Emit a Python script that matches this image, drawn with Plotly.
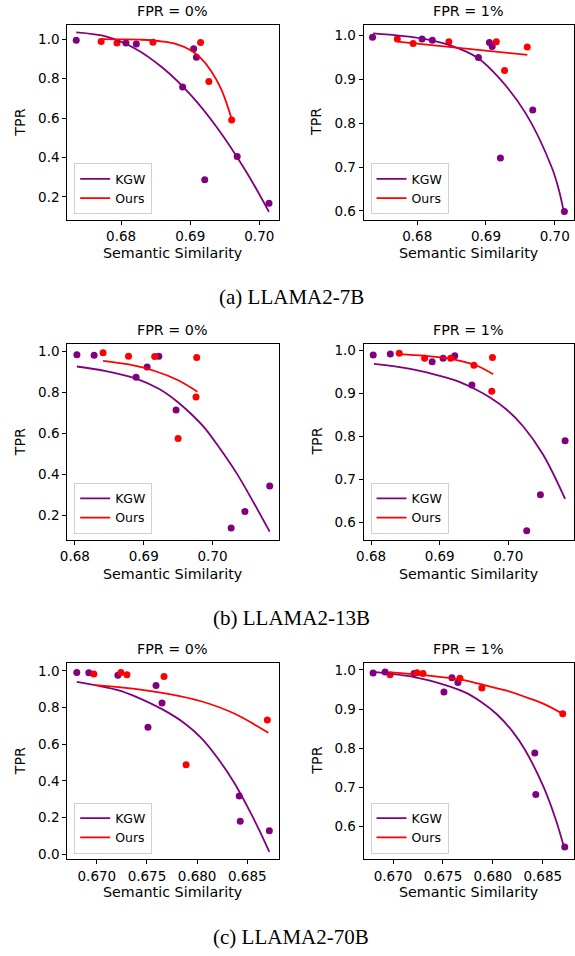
import plotly.graph_objects as go

PURPLE = "purple"
RED = "red"

# ---------------- LLAMA2-7B ----------------
SIM_7B_KGW = [0.6735, 0.6807, 0.6822, 0.6889, 0.6905, 0.6909, 0.6921, 0.6968, 0.7014]
TPR0_7B_KGW = [0.995, 0.980, 0.976, 0.758, 0.951, 0.908, 0.287, 0.405, 0.168]
TPR1_7B_KGW = [0.996, 0.992, 0.989, 0.950, 0.984, 0.975, 0.721, 0.830, 0.599]
SIM_7B_OURS = [0.6771, 0.6794, 0.6846, 0.6915, 0.6927, 0.6960]
TPR0_7B_OURS = [0.988, 0.980, 0.985, 0.983, 0.785, 0.590]
TPR1_7B_OURS = [0.992, 0.982, 0.986, 0.986, 0.920, 0.974]

FIT0_7B_KGW_X = [0.6735, 0.678, 0.682, 0.686, 0.690, 0.694, 0.698, 0.7014]
FIT0_7B_KGW_Y = [1.034, 1.012, 0.953, 0.855, 0.720, 0.546, 0.334, 0.124]
FIT0_7B_OURS_X = [0.6771, 0.680, 0.683, 0.686, 0.688, 0.690, 0.6915, 0.693, 0.6945, 0.696]
FIT0_7B_OURS_Y = [1.0, 0.999, 0.997, 0.988, 0.975, 0.945, 0.905, 0.84, 0.745, 0.595]
FIT1_7B_KGW_X = [0.6736, 0.6808, 0.6849, 0.6887, 0.6918, 0.6958, 0.6996, 0.7006, 0.7014]
FIT1_7B_KGW_Y = [1.005, 0.993, 0.977, 0.950, 0.905, 0.822, 0.698, 0.648, 0.592]
FIT1_7B_OURS_X = [0.6771, 0.6960]
FIT1_7B_OURS_Y = [0.986, 0.956]

# ---------------- LLAMA2-13B ----------------
SIM_13B_KGW = [0.6803, 0.6828, 0.6889, 0.6905, 0.6922, 0.6947, 0.7027, 0.7047, 0.7083]
TPR0_13B_KGW = [0.985, 0.982, 0.875, 0.925, 0.977, 0.714, 0.138, 0.219, 0.343]
TPR1_13B_KGW = [0.990, 0.992, 0.974, 0.982, 0.988, 0.920, 0.580, 0.664, 0.790]
SIM_13B_OURS = [0.6841, 0.6878, 0.6916, 0.6950, 0.6976, 0.6977]
TPR0_13B_OURS = [0.994, 0.977, 0.976, 0.575, 0.778, 0.971]
TPR1_13B_OURS = [0.994, 0.982, 0.982, 0.966, 0.905, 0.984]

FIT0_13B_KGW_X = [0.6803, 0.6845, 0.6889, 0.6922, 0.6947, 0.6969, 0.6989, 0.7012, 0.7036, 0.7060, 0.7083]
FIT0_13B_KGW_Y = [0.927, 0.905, 0.868, 0.818, 0.760, 0.695, 0.625, 0.520, 0.400, 0.260, 0.120]
FIT0_13B_OURS_X = [0.6841, 0.6878, 0.6916, 0.6950, 0.6978]
FIT0_13B_OURS_Y = [0.955, 0.937, 0.905, 0.860, 0.804]
FIT1_13B_KGW_X = [0.6804, 0.6855, 0.6889, 0.6926, 0.6947, 0.6974, 0.6998, 0.7022, 0.7051, 0.7083]
FIT1_13B_KGW_Y = [0.969, 0.958, 0.946, 0.929, 0.914, 0.890, 0.862, 0.823, 0.757, 0.654]
FIT1_13B_OURS_X = [0.6841, 0.6878, 0.6916, 0.6951, 0.6978]
FIT1_13B_OURS_Y = [0.992, 0.988, 0.981, 0.967, 0.945]

# ---------------- LLAMA2-70B ----------------
SIM_70B_KGW = [0.6680, 0.6692, 0.6721, 0.6751, 0.6759, 0.6765, 0.6842, 0.6843, 0.6872]
TPR0_70B_KGW = [0.991, 0.989, 0.976, 0.693, 0.920, 0.825, 0.318, 0.181, 0.128]
TPR1_70B_KGW = [0.992, 0.995, 0.991, 0.944, 0.980, 0.968, 0.788, 0.682, 0.548]
SIM_70B_OURS = [0.6697, 0.6724, 0.6730, 0.6767, 0.6789, 0.6870]
TPR0_70B_OURS = [0.982, 0.991, 0.978, 0.969, 0.488, 0.732]
TPR1_70B_OURS = [0.988, 0.993, 0.991, 0.979, 0.954, 0.888]

FIT0_70B_KGW_X = [0.6680, 0.6721, 0.6738, 0.6765, 0.6788, 0.6804, 0.6820, 0.6837, 0.6853, 0.6863, 0.6872]
FIT0_70B_KGW_Y = [0.940, 0.895, 0.861, 0.791, 0.712, 0.635, 0.528, 0.390, 0.230, 0.120, 0.014]
FIT0_70B_OURS_X = [0.6698, 0.6738, 0.6771, 0.6804, 0.6837, 0.6871]
FIT0_70B_OURS_Y = [0.922, 0.901, 0.874, 0.834, 0.767, 0.662]
FIT1_70B_KGW_X = [0.6680, 0.6721, 0.6738, 0.6771, 0.6788, 0.6804, 0.6820, 0.6832, 0.6851, 0.6863, 0.6872]
FIT1_70B_KGW_Y = [0.995, 0.982, 0.972, 0.944, 0.919, 0.887, 0.842, 0.797, 0.700, 0.618, 0.541]
FIT1_70B_OURS_X = [0.6698, 0.6738, 0.6771, 0.6789, 0.6814, 0.6837, 0.6853, 0.6870]
FIT1_70B_OURS_Y = [0.994, 0.985, 0.974, 0.963, 0.947, 0.927, 0.911, 0.888]

# tick labels
X_TICKS_7B = [0.68, 0.69, 0.70]
X_TICKS_13B = [0.68, 0.69, 0.70]
X_TICKS_70B = [0.670, 0.675, 0.680, 0.685]
Y_TICKS_0 = [0.2, 0.4, 0.6, 0.8, 1.0]
Y_TICKS_0_70B = [0.0, 0.2, 0.4, 0.6, 0.8, 1.0]
Y_TICKS_1 = [0.6, 0.7, 0.8, 0.9, 1.0]

TITLES = ["FPR = 0%", "FPR = 1%"]
CAPTIONS = ["(a) LLAMA2-7B", "(b) LLAMA2-13B", "(c) LLAMA2-70B"]

W, H = 575, 956

panels = [
    dict(kx=SIM_7B_KGW, ky=TPR0_7B_KGW, ox=SIM_7B_OURS, oy=TPR0_7B_OURS,
         fkx=FIT0_7B_KGW_X, fky=FIT0_7B_KGW_Y, fox=FIT0_7B_OURS_X, foy=FIT0_7B_OURS_Y,
         xt=X_TICKS_7B, xf=".2f", yt=Y_TICKS_0, xr=[0.6722, 0.7028], yr=[0.082, 1.074]),
    dict(kx=SIM_7B_KGW, ky=TPR1_7B_KGW, ox=SIM_7B_OURS, oy=TPR1_7B_OURS,
         fkx=FIT1_7B_KGW_X, fky=FIT1_7B_KGW_Y, fox=FIT1_7B_OURS_X, foy=FIT1_7B_OURS_Y,
         xt=X_TICKS_7B, xf=".2f", yt=Y_TICKS_1, xr=[0.6722, 0.7028], yr=[0.579, 1.025]),
    dict(kx=SIM_13B_KGW, ky=TPR0_13B_KGW, ox=SIM_13B_OURS, oy=TPR0_13B_OURS,
         fkx=FIT0_13B_KGW_X, fky=FIT0_13B_KGW_Y, fox=FIT0_13B_OURS_X, foy=FIT0_13B_OURS_Y,
         xt=X_TICKS_13B, xf=".2f", yt=Y_TICKS_0, xr=[0.6789, 0.7096], yr=[0.081, 1.036]),
    dict(kx=SIM_13B_KGW, ky=TPR1_13B_KGW, ox=SIM_13B_OURS, oy=TPR1_13B_OURS,
         fkx=FIT1_13B_KGW_X, fky=FIT1_13B_KGW_Y, fox=FIT1_13B_OURS_X, foy=FIT1_13B_OURS_Y,
         xt=X_TICKS_13B, xf=".2f", yt=Y_TICKS_1, xr=[0.6789, 0.7096], yr=[0.559, 1.015]),
    dict(kx=SIM_70B_KGW, ky=TPR0_70B_KGW, ox=SIM_70B_OURS, oy=TPR0_70B_OURS,
         fkx=FIT0_70B_KGW_X, fky=FIT0_70B_KGW_Y, fox=FIT0_70B_OURS_X, foy=FIT0_70B_OURS_Y,
         xt=X_TICKS_70B, xf=".3f", yt=Y_TICKS_0_70B, xr=[0.66705, 0.68813], yr=[-0.028, 1.045]),
    dict(kx=SIM_70B_KGW, ky=TPR1_70B_KGW, ox=SIM_70B_OURS, oy=TPR1_70B_OURS,
         fkx=FIT1_70B_KGW_X, fky=FIT1_70B_KGW_Y, fox=FIT1_70B_OURS_X, foy=FIT1_70B_OURS_Y,
         xt=X_TICKS_70B, xf=".3f", yt=Y_TICKS_1, xr=[0.66705, 0.68813], yr=[0.516, 1.019]),
]

# geometry in pixels
COLS = [(61, 275), (361, 574)]
ROWS = [(22.7, 219.3), (344, 540.5), (664, 862)]
TITLE_Y = [9.5, 329.5, 650]
XLAB_Y = [252, 575, 895]
CAP_Y = [297, 619, 940]
YLAB_X = [13.5, 313.5]

FONT = "DejaVu Sans"

def px_x(v):
    return v / W

def px_y(v):
    return 1 - v / H

fig = go.Figure()
layout = dict(width=W, height=H, margin=dict(l=0, r=0, t=0, b=0),
              plot_bgcolor="white", paper_bgcolor="white", showlegend=True)
annotations = []

for i, p in enumerate(panels, start=1):
    r, c = (i - 1) // 2, (i - 1) % 2
    xs = "" if i == 1 else str(i)
    xa, ya, lg = "x" + xs, "y" + xs, "legend" + xs
    fig.add_trace(go.Scatter(x=p["kx"], y=p["ky"], mode="markers",
                             marker=dict(color=PURPLE, size=7, line=dict(width=0)),
                             xaxis=xa, yaxis=ya, showlegend=False, hoverinfo="skip"))
    fig.add_trace(go.Scatter(x=p["ox"], y=p["oy"], mode="markers",
                             marker=dict(color=RED, size=7, line=dict(width=0)),
                             xaxis=xa, yaxis=ya, showlegend=False, hoverinfo="skip"))
    fig.add_trace(go.Scatter(x=p["fkx"], y=p["fky"], mode="lines", name="KGW",
                             line=dict(color=PURPLE, width=1.8, shape="spline", smoothing=1.0),
                             xaxis=xa, yaxis=ya, legend=lg))
    fig.add_trace(go.Scatter(x=p["fox"], y=p["foy"], mode="lines", name="Ours",
                             line=dict(color=RED, width=1.8, shape="spline", smoothing=1.0),
                             xaxis=xa, yaxis=ya, legend=lg))

    x0, x1 = COLS[c]
    y0, y1 = ROWS[r]
    axcommon = dict(showline=True, mirror=True, linecolor="black", linewidth=1,
                    ticks="outside", ticklen=4, tickwidth=1, tickcolor="black",
                    showgrid=False, zeroline=False,
                    tickfont=dict(family=FONT, size=13.5, color="black"))
    layout["xaxis" + xs] = dict(domain=[px_x(x0), px_x(x1)], anchor=ya, range=p["xr"],
                                tickvals=p["xt"], tickformat=p["xf"], **axcommon)
    layout["yaxis" + xs] = dict(domain=[px_y(y1), px_y(y0)], anchor=xa, range=p["yr"],
                                tickvals=p["yt"], tickformat=".1f", **axcommon)
    layout[lg] = dict(x=px_x(x0 + 7), y=px_y(y1 - 6), xanchor="left", yanchor="bottom",
                      bgcolor="rgba(255,255,255,0.85)", bordercolor="#d0d0d0", borderwidth=1,
                      font=dict(family=FONT, size=12.5, color="black"),
                      itemwidth=30, tracegroupgap=0)

    cx = (x0 + x1) / 2
    annotations.append(dict(text=TITLES[c], x=px_x(cx), y=px_y(TITLE_Y[r]), xref="paper", yref="paper",
                            xanchor="center", yanchor="middle", showarrow=False,
                            font=dict(family=FONT, size=14.3, color="black")))
    annotations.append(dict(text="Semantic Similarity", x=px_x(cx), y=px_y(XLAB_Y[r]), xref="paper",
                            yref="paper", xanchor="center", yanchor="middle", showarrow=False,
                            font=dict(family=FONT, size=14.3, color="black")))
    annotations.append(dict(text="TPR", x=px_x(YLAB_X[c]), y=px_y((y0 + y1) / 2), xref="paper",
                            yref="paper", xanchor="center", yanchor="middle", textangle=-90,
                            showarrow=False, font=dict(family=FONT, size=14.3, color="black")))

for r, cap in enumerate(CAPTIONS):
    annotations.append(dict(text=cap, x=px_x(288), y=px_y(CAP_Y[r]), xref="paper", yref="paper",
                            xanchor="center", yanchor="middle", showarrow=False,
                            font=dict(family="Liberation Serif", size=21, color="black")))

layout["annotations"] = annotations
fig.update_layout(**layout)
fig.write_html("out.html", config={"displayModeBar": False})

# remove the default page margin so the 575x956 figure fills the window exactly
with open("out.html", "r", encoding="utf-8") as f:
    html = f.read()
html = html.replace("<head>", "<head><style>html,body{margin:0;padding:0;overflow:hidden;}</style>", 1)
with open("out.html", "w", encoding="utf-8") as f:
    f.write(html)
